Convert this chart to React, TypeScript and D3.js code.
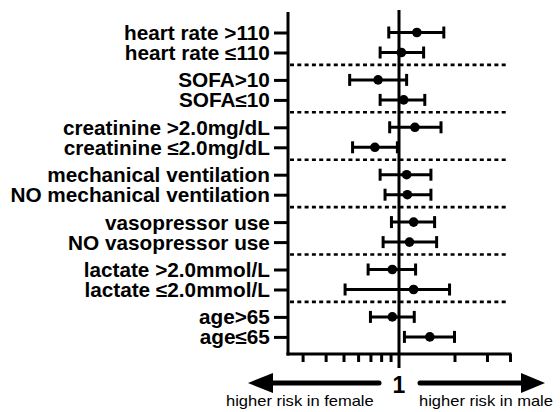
import * as d3 from "d3";
import { useEffect, useRef } from "react";

// subgroup labels, top to bottom (pairs share a block)
const categories = [
  "heart rate >110",
  "heart rate \u2264110",
  "SOFA>10",
  "SOFA\u226410",
  "creatinine >2.0mg/dL",
  "creatinine \u22642.0mg/dL",
  "mechanical ventilation",
  "NO mechanical ventilation",
  "vasopressor use",
  "NO vasopressor use",
  "lactate >2.0mmol/L",
  "lactate \u22642.0mmol/L",
  "age>65",
  "age\u226465",
];

// odds ratio (male vs female) with 95% CI
const oddsRatio = [1.25, 1.03, 0.77, 1.06, 1.22, 0.74, 1.1, 1.11, 1.2, 1.14, 0.92, 1.2, 0.92, 1.47];
const lowerCI = [0.88, 0.79, 0.54, 0.79, 0.89, 0.56, 0.79, 0.84, 0.91, 0.82, 0.68, 0.51, 0.7, 1.07];
const upperCI = [1.75, 1.36, 1.1, 1.38, 1.69, 0.98, 1.49, 1.49, 1.56, 1.6, 1.23, 1.88, 1.21, 2.0];

const xTicks = [0.3, 0.4, 0.5, 0.6, 0.7, 0.8, 0.9, 2, 3, 4];

const W = 560;
const H = 412;
const FONT = "'Liberation Sans', Arial, Helvetica, sans-serif";

// row slot: pairs 1 unit apart, blocks 2.37 units apart
const slot = (i: number) => Math.floor(i / 2) * 2.37 + (i % 2);

const App = () => {
  const ref = useRef<SVGSVGElement>(null);

  useEffect(() => {
    if (!ref.current) return;
    const svg = d3.select(ref.current);
    svg.selectAll("*").remove();

    const x = d3.scaleLog().domain([0.25, 4]).range([288, 510]);
    const y = d3.scaleLinear().domain([0, slot(13)]).range([32.5, 336.9]);
    const axisTop = 12;
    const axisBottom = 354;

    // dotted separators between blocks
    const nBlocks = categories.length / 2;
    svg
      .append("g")
      .selectAll("line")
      .data(d3.range(nBlocks - 1))
      .join("line")
      .attr("x1", 290)
      .attr("x2", 508)
      .attr("y1", (g) => y(g * 2.37 + 1.62))
      .attr("y2", (g) => y(g * 2.37 + 1.62))
      .attr("stroke", "#000")
      .attr("stroke-width", 2.6)
      .attr("stroke-dasharray", "4,3.3");

    // reference line at OR = 1
    svg
      .append("line")
      .attr("x1", x(1))
      .attr("x2", x(1))
      .attr("y1", 10)
      .attr("y2", 368)
      .attr("stroke", "#000")
      .attr("stroke-width", 3);

    // left axis with category labels
    const yAxis = d3
      .axisLeft(y)
      .tickValues(categories.map((_, i) => slot(i)))
      .tickFormat((_d, i) => categories[i])
      .tickSize(14)
      .tickPadding(3);
    const gy = svg.append("g").attr("transform", "translate(288,0)").call(yAxis);
    gy.select(".domain").remove();
    gy.selectAll(".tick line").attr("stroke", "#000").attr("stroke-width", 3);
    gy.selectAll(".tick text")
      .attr("fill", "#000")
      .attr("font-family", FONT)
      .attr("font-weight", "bold")
      .attr("font-size", 19.5)
      .attr("dy", "0.36em")
      .attr("transform", "scale(1.065,1)");
    svg
      .append("line")
      .attr("x1", 288)
      .attr("x2", 288)
      .attr("y1", axisTop)
      .attr("y2", axisBottom + 1.5)
      .attr("stroke", "#000")
      .attr("stroke-width", 3);

    // bottom axis (log)
    const xAxis = d3.axisBottom(x).tickValues(xTicks).tickFormat(() => "").tickSize(8);
    const gx = svg.append("g").attr("transform", `translate(0,${axisBottom})`).call(xAxis);
    gx.select(".domain").remove();
    gx.selectAll(".tick line").attr("stroke", "#000").attr("stroke-width", 3);
    svg
      .append("line")
      .attr("x1", 286.5)
      .attr("x2", 511.5)
      .attr("y1", axisBottom)
      .attr("y2", axisBottom)
      .attr("stroke", "#000")
      .attr("stroke-width", 3);

    // error bars
    const rows = svg.append("g").selectAll("g").data(categories).join("g");
    rows
      .append("line")
      .attr("x1", (_d, i) => x(lowerCI[i]))
      .attr("x2", (_d, i) => x(upperCI[i]))
      .attr("y1", (_d, i) => y(slot(i)))
      .attr("y2", (_d, i) => y(slot(i)))
      .attr("stroke", "#000")
      .attr("stroke-width", 3);
    [lowerCI, upperCI].forEach((arr) => {
      rows
        .append("line")
        .attr("x1", (_d, i) => x(arr[i]))
        .attr("x2", (_d, i) => x(arr[i]))
        .attr("y1", (_d, i) => y(slot(i)) - 6)
        .attr("y2", (_d, i) => y(slot(i)) + 6)
        .attr("stroke", "#000")
        .attr("stroke-width", 3);
    });
    rows
      .append("circle")
      .attr("cx", (_d, i) => x(oddsRatio[i]))
      .attr("cy", (_d, i) => y(slot(i)))
      .attr("r", 4.8)
      .attr("fill", "#000");

    // "1" and direction arrows
    const ay = 383;
    svg
      .append("text")
      .attr("x", x(1))
      .attr("y", ay + 10)
      .attr("text-anchor", "middle")
      .attr("font-family", FONT)
      .attr("font-weight", "bold")
      .attr("font-size", 23)
      .text("1");

    const arrow = svg.append("g").attr("fill", "#000").attr("stroke", "#000");
    arrow
      .append("line")
      .attr("x1", 270)
      .attr("x2", 379)
      .attr("y1", ay)
      .attr("y2", ay)
      .attr("stroke-width", 5)
      .attr("stroke-linecap", "round");
    arrow
      .append("path")
      .attr("stroke", "none")
      .attr("d", `M248,${ay}L273,${ay - 10}L273,${ay + 10}Z`);
    arrow
      .append("line")
      .attr("x1", 420)
      .attr("x2", 525)
      .attr("y1", ay)
      .attr("y2", ay)
      .attr("stroke-width", 5)
      .attr("stroke-linecap", "round");
    arrow
      .append("path")
      .attr("stroke", "none")
      .attr("d", `M545,${ay}L521,${ay - 10}L521,${ay + 10}Z`);

    const caption = (tx: number, label: string) =>
      svg
        .append("text")
        .attr("transform", `translate(${tx},406) scale(1.18,1)`)
        .attr("font-family", FONT)
        .attr("font-size", 14)
        .attr("fill", "#000")
        .text(label);
    caption(226, "higher risk in female");
    caption(419, "higher risk in male");
  }, []);

  return (
    <svg
      ref={ref}
      width={W}
      height={H}
      style={{ position: "absolute", left: 0, top: 0, background: "#fff" }}
    />
  );
};

export default App;
